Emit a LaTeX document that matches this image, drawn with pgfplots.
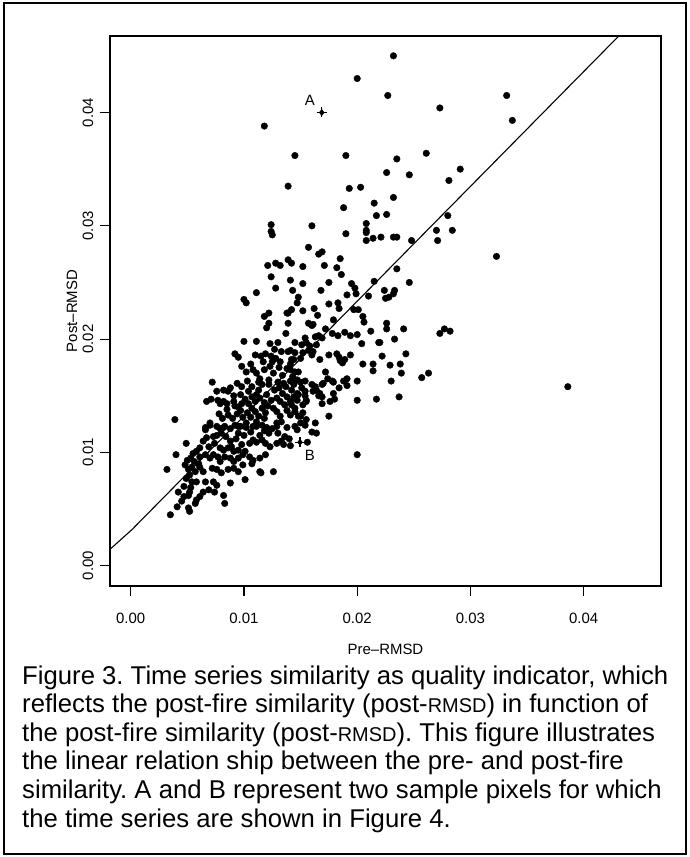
\documentclass[border=0pt]{standalone}
\usepackage{fontspec}
\setmainfont{Liberation Sans}
\usepackage{pgfplots}
\pgfplotsset{compat=1.18}
\newcommand{\axfont}{\fontsize{15}{18}\selectfont}
\newcommand{\capfont}{\fontsize{25.8}{28.6}\selectfont}
\newcommand{\sm}[1]{{\fontsize{20}{20}\selectfont #1}}
\frenchspacing
\begin{document}
\begin{tikzpicture}[x=1bp,y=1bp]
\useasboundingbox (0,0) rectangle (690,-857);
\draw[line width=1.5bp] (4,-3) rectangle (686,-854);
\begin{axis}[
  at={(110bp,-586bp)}, anchor=south west,
  scale only axis, width=551bp, height=550bp,
  xmin=-0.00183, xmax=0.04683, ymin=-0.00179, ymax=0.04675,
  scaled ticks=false,
  axis line style={line width=1.2bp},
  tick style={line width=1.2bp, black},
  tick align=outside, major tick length=10bp,
  xtick pos=bottom, ytick pos=left,
  xtick={0,0.01,0.02,0.03,0.04}, xticklabels={0.00,0.01,0.02,0.03,0.04},
  ytick={0,0.01,0.02,0.03,0.04}, yticklabels={0.00,0.01,0.02,0.03,0.04},
  /pgf/number format/assume math mode=true,
  ticklabel style={font=\axfont},
  xticklabel style={anchor=center, yshift=-22.5bp},
  yticklabel style={rotate=90, anchor=center, yshift=12bp},
  label style={font=\axfont},
  xlabel={Pre–RMSD}, ylabel={Post–RMSD},
  xlabel style={at={(axis description cs:0.5,0)}, anchor=center, yshift=-63bp},
  ylabel style={at={(axis description cs:0,0.5)}, anchor=center, yshift=38bp},
  clip=true,
]
% fitted line
\addplot[black, line width=1.1bp] coordinates {(-0.00183,0.00145) (0.0001,0.00318) (0.0431,0.04675)};
% pixels
\addplot[only marks, mark=*, mark size=3.3bp, black] coordinates {
(0.0232,0.0450) (0.0200,0.0430) (0.0227,0.0415) (0.0118,0.0388) (0.0145,0.0362)
(0.0190,0.0362) (0.0235,0.0359) (0.0139,0.0335) (0.0193,0.0333) (0.0203,0.0334)
(0.0226,0.0347) (0.0232,0.0325) (0.0215,0.0320) (0.0217,0.0309) (0.0226,0.0310)
(0.0188,0.0316) (0.0208,0.0302) (0.0208,0.0296) (0.0208,0.0294) (0.0208,0.0287)
(0.0214,0.0289) (0.0221,0.0290) (0.0232,0.0290) (0.0235,0.0290) (0.0160,0.0300)
(0.0124,0.0301) (0.0124,0.0295) (0.0125,0.0292) (0.0190,0.0293) (0.0157,0.0281)
(0.0166,0.0275) (0.0169,0.0277) (0.0185,0.0271) (0.0121,0.0265) (0.0128,0.0267)
(0.0132,0.0265) (0.0139,0.0270) (0.0142,0.0267) (0.0152,0.0264) (0.0171,0.0265)
(0.0182,0.0263) (0.0186,0.0257) (0.0124,0.0255) (0.0141,0.0252) (0.0152,0.0249)
(0.0175,0.0250) (0.0195,0.0249) (0.0198,0.0245) (0.0199,0.0240) (0.0215,0.0251)
(0.0128,0.0245) (0.0143,0.0243) (0.0148,0.0237) (0.0168,0.0243) (0.0191,0.0239)
(0.0210,0.0238) (0.0224,0.0243) (0.0233,0.0243) (0.0232,0.0240) (0.0100,0.0235)
(0.0102,0.0232) (0.0111,0.0241) (0.0147,0.0232) (0.0142,0.0226) (0.0139,0.0223)
(0.0152,0.0225) (0.0162,0.0227) (0.0165,0.0221) (0.0175,0.0231) (0.0183,0.0232)
(0.0184,0.0227) (0.0197,0.0226) (0.0201,0.0226) (0.0205,0.0220) (0.0206,0.0215)
(0.0225,0.0236) (0.0226,0.0214) (0.0118,0.0220) (0.0122,0.0223) (0.0122,0.0214)
(0.0120,0.0210) (0.0138,0.0223) (0.0139,0.0214) (0.0157,0.0214) (0.0161,0.0213)
(0.0179,0.0217)
(0.0332,0.0415) (0.0273,0.0404) (0.0337,0.0393) (0.0261,0.0364) (0.0246,0.0345)
(0.0291,0.0350) (0.0281,0.0340) (0.0280,0.0309) (0.0270,0.0296) (0.0284,0.0296)
(0.0271,0.0287) (0.0248,0.0287) (0.0323,0.0273) (0.0235,0.0262) (0.0246,0.0250)
(0.0228,0.0237) (0.0241,0.0209) (0.0273,0.0205) (0.0277,0.0209) (0.0282,0.0207)
(0.0226,0.0209) (0.0220,0.0197) (0.0233,0.0200) (0.0222,0.0185) (0.0243,0.0187)
(0.0229,0.0177) (0.0238,0.0178) (0.0239,0.0170) (0.0230,0.0163) (0.0257,0.0166)
(0.0263,0.0170) (0.0237,0.0149) (0.0386,0.0158)
(0.0160,0.0212) (0.0172,0.0209) (0.0178,0.0205) (0.0183,0.0203) (0.0189,0.0206)
(0.0194,0.0203) (0.0200,0.0204) (0.0212,0.0207) (0.0145,0.0197) (0.0154,0.0201)
(0.0155,0.0197) (0.0151,0.0195) (0.0163,0.0202) (0.0166,0.0203) (0.0169,0.0201)
(0.0158,0.0194) (0.0157,0.0190) (0.0164,0.0195) (0.0161,0.0189) (0.0160,0.0186)
(0.0141,0.0190) (0.0145,0.0188) (0.0142,0.0182) (0.0152,0.0188) (0.0150,0.0183)
(0.0204,0.0196) (0.0219,0.0197) (0.0175,0.0186) (0.0182,0.0187) (0.0184,0.0184)
(0.0185,0.0181) (0.0187,0.0179) (0.0189,0.0182) (0.0194,0.0186) (0.0167,0.0182)
(0.0205,0.0178) (0.0214,0.0178) (0.0214,0.0172) (0.0141,0.0173) (0.0145,0.0171)
(0.0148,0.0171) (0.0143,0.0167) (0.0147,0.0164) (0.0154,0.0163) (0.0150,0.0162)
(0.0172,0.0171) (0.0174,0.0165) (0.0178,0.0163) (0.0179,0.0162) (0.0188,0.0163)
(0.0191,0.0165) (0.0200,0.0163) (0.0160,0.0160) (0.0163,0.0158) (0.0164,0.0155)
(0.0161,0.0154) (0.0169,0.0160) (0.0170,0.0161) (0.0167,0.0152) (0.0169,0.0149)
(0.0166,0.0150) (0.0184,0.0157) (0.0179,0.0152) (0.0180,0.0147) (0.0176,0.0145)
(0.0169,0.0143) (0.0191,0.0159) (0.0200,0.0146) (0.0217,0.0147) (0.0141,0.0163)
(0.0144,0.0160) (0.0142,0.0155) (0.0147,0.0152) (0.0144,0.0149) (0.0147,0.0146)
(0.0142,0.0142) (0.0145,0.0139) (0.0151,0.0157) (0.0154,0.0154) (0.0155,0.0146)
(0.0152,0.0142) (0.0148,0.0132) (0.0147,0.0120) (0.0150,0.0126) (0.0175,0.0132)
(0.0163,0.0126) (0.0160,0.0118) (0.0164,0.0117) (0.0156,0.0109) (0.0141,0.0106)
(0.0137,0.0205) (0.0100,0.0198) (0.0111,0.0198) (0.0123,0.0196) (0.0130,0.0197)
(0.0127,0.0191) (0.0133,0.0189) (0.0139,0.0189) (0.0092,0.0187) (0.0095,0.0184)
(0.0110,0.0186) (0.0115,0.0185) (0.0119,0.0187) (0.0124,0.0185) (0.0125,0.0180)
(0.0123,0.0176) (0.0144,0.0182) (0.0141,0.0178) (0.0138,0.0174) (0.0108,0.0173)
(0.0111,0.0170) (0.0102,0.0171) (0.0118,0.0173) (0.0114,0.0165) (0.0113,0.0162)
(0.0116,0.0160) (0.0122,0.0164) (0.0122,0.0160) (0.0072,0.0162) (0.0094,0.0161)
(0.0130,0.0162) (0.0135,0.0161) (0.0137,0.0158) (0.0144,0.0161) (0.0076,0.0154)
(0.0082,0.0155) (0.0086,0.0154) (0.0104,0.0154) (0.0097,0.0151) (0.0111,0.0151)
(0.0114,0.0148) (0.0110,0.0145) (0.0120,0.0151) (0.0129,0.0148) (0.0132,0.0145)
(0.0138,0.0149) (0.0141,0.0145) (0.0145,0.0148) (0.0148,0.0151) (0.0154,0.0150)
(0.0155,0.0145) (0.0067,0.0145) (0.0071,0.0147) (0.0077,0.0146) (0.0079,0.0143)
(0.0082,0.0145) (0.0085,0.0143) (0.0091,0.0145) (0.0092,0.0141) (0.0095,0.0140)
(0.0098,0.0143) (0.0104,0.0143) (0.0107,0.0139) (0.0110,0.0136) (0.0116,0.0139)
(0.0119,0.0135) (0.0126,0.0139) (0.0129,0.0136) (0.0132,0.0132) (0.0138,0.0137)
(0.0141,0.0133) (0.0145,0.0136) (0.0150,0.0132) (0.0152,0.0135) (0.0155,0.0129)
(0.0066,0.0122) (0.0070,0.0124) (0.0076,0.0123) (0.0082,0.0122) (0.0088,0.0121)
(0.0095,0.0123) (0.0102,0.0122) (0.0111,0.0123) (0.0120,0.0122) (0.0129,0.0123)
(0.0138,0.0122) (0.0145,0.0123) (0.0154,0.0124)
(0.0039,0.0129) (0.0070,0.0126) (0.0066,0.0120) (0.0073,0.0114) (0.0076,0.0115)
(0.0080,0.0117) (0.0079,0.0121) (0.0083,0.0123) (0.0092,0.0124) (0.0097,0.0123)
(0.0102,0.0126) (0.0108,0.0123) (0.0111,0.0127) (0.0116,0.0124) (0.0125,0.0121)
(0.0129,0.0126) (0.0122,0.0117) (0.0130,0.0117) (0.0049,0.0108) (0.0061,0.0104)
(0.0069,0.0105) (0.0074,0.0108) (0.0079,0.0104) (0.0082,0.0102) (0.0086,0.0104)
(0.0089,0.0105) (0.0091,0.0101) (0.0095,0.0102) (0.0098,0.0107) (0.0101,0.0101)
(0.0105,0.0108) (0.0108,0.0111) (0.0111,0.0109) (0.0116,0.0111) (0.0119,0.0108)
(0.0123,0.0105) (0.0129,0.0108) (0.0135,0.0107) (0.0040,0.0098) (0.0061,0.0096)
(0.0066,0.0098) (0.0070,0.0095) (0.0073,0.0098) (0.0077,0.0096) (0.0079,0.0092)
(0.0083,0.0096) (0.0088,0.0095) (0.0091,0.0092) (0.0095,0.0095) (0.0099,0.0098)
(0.0105,0.0096) (0.0108,0.0093) (0.0114,0.0095) (0.0119,0.0098) (0.0032,0.0085)
(0.0048,0.0089) (0.0051,0.0085) (0.0052,0.0080) (0.0049,0.0077) (0.0054,0.0074)
(0.0061,0.0087) (0.0064,0.0083) (0.0072,0.0086) (0.0076,0.0085) (0.0080,0.0082)
(0.0086,0.0085) (0.0091,0.0086) (0.0095,0.0083) (0.0099,0.0089) (0.0107,0.0090)
(0.0114,0.0083) (0.0126,0.0083) (0.0058,0.0074) (0.0066,0.0074) (0.0073,0.0074)
(0.0076,0.0071) (0.0088,0.0073) (0.0101,0.0076) (0.0042,0.0065) (0.0047,0.0061)
(0.0051,0.0062) (0.0052,0.0065) (0.0045,0.0057) (0.0058,0.0058) (0.0061,0.0061)
(0.0064,0.0065) (0.0069,0.0067) (0.0074,0.0065) (0.0082,0.0062) (0.0041,0.0052)
(0.0051,0.0051) (0.0052,0.0048) (0.0057,0.0055) (0.0083,0.0055) (0.0035,0.0045)
(0.0115,0.0082) (0.0200,0.0098)
(0.0053,0.0095) (0.0055,0.0099) (0.0056,0.0092) (0.0054,0.0087) (0.0057,0.0083)
(0.0058,0.0101) (0.0060,0.0090) (0.0050,0.0093) (0.0047,0.0070) (0.0053,0.0069)
(0.0090,0.0130) (0.0094,0.0134) (0.0099,0.0131) (0.0103,0.0135) (0.0106,0.0131)
(0.0113,0.0132) (0.0118,0.0130) (0.0086,0.0133) (0.0081,0.0130) (0.0078,0.0134)
(0.0085,0.0138) (0.0097,0.0137) (0.0101,0.0147) (0.0107,0.0149) (0.0113,0.0155)
(0.0118,0.0144) (0.0124,0.0146) (0.0121,0.0141) (0.0127,0.0155) (0.0131,0.0157)
(0.0134,0.0152) (0.0136,0.0142) (0.0107,0.0158) (0.0103,0.0163) (0.0098,0.0158)
(0.0091,0.0150) (0.0088,0.0157) (0.0106,0.0118) (0.0114,0.0115) (0.0118,0.0119)
(0.0133,0.0127) (0.0136,0.0114) (0.0140,0.0112) (0.0133,0.0110) (0.0093,0.0112)
(0.0088,0.0110) (0.0084,0.0114) (0.0100,0.0115) (0.0095,0.0117) (0.0064,0.0110)
(0.0067,0.0113) (0.0126,0.0170) (0.0131,0.0175) (0.0134,0.0168) (0.0128,0.0183)
(0.0132,0.0180) (0.0106,0.0178) (0.0098,0.0176) (0.0117,0.0180)
};
% sample pixels A and B
\addplot[only marks, mark=diamond*, mark size=3.2bp, black] coordinates {(0.01687,0.0400) (0.01495,0.0109)};
\addplot[only marks, mark=+, mark size=5bp, line width=1.2bp, black] coordinates {(0.01687,0.0400) (0.01495,0.0109)};
\node[font=\axfont] at (axis cs:0.01583,0.04104) {A};
\node[font=\axfont] at (axis cs:0.01583,0.00977) {B};
\end{axis}
\begin{scope}[every node/.style={anchor=base west, inner sep=0pt, font=\capfont}]
\node at (22,-684) {Figure 3. Time series similarity as quality indicator, which};
\node at (22,-712.6) {reflects the post-fire similarity (post-\sm{RMSD}) in function of};
\node at (22,-741.2) {the post-fire similarity (post-\sm{RMSD}). This figure illustrates};
\node at (22,-769.8) {the linear relation ship between the pre- and post-fire};
\node at (22,-798.4) {similarity. A and B represent two sample pixels for which};
\node at (22,-827) {the time series are shown in Figure 4.};
\end{scope}
\end{tikzpicture}
\end{document}
